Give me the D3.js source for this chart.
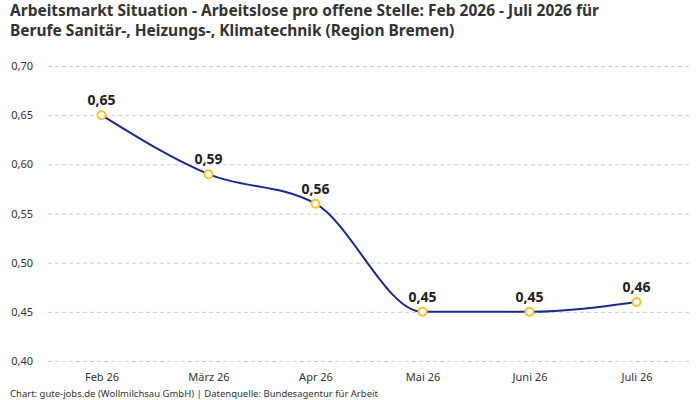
<!DOCTYPE html>
<html>
<head>
<meta charset="utf-8">
<script src="https://cdn.jsdelivr.net/npm/d3@7"></script>
<style>
  body { margin: 0; background: #fff; }
  svg { display: block; font-family: "Noto Sans", sans-serif; }
</style>
</head>
<body>
<div id="chart"></div>
<script>
const months = ["Feb 26", "März 26", "Apr 26", "Mai 26", "Juni 26", "Juli 26"];
const values = [0.65, 0.59, 0.56, 0.45, 0.45, 0.46];
const yTicks = [0.40, 0.45, 0.50, 0.55, 0.60, 0.65, 0.70];

const width = 700, height = 400;
const margin = { left: 48, right: 10, top: 66, bottom: 39 };

const fmt = v => d3.format(".2f")(v).replace(".", ",");

const svg = d3.select("#chart").append("svg")
    .attr("width", width)
    .attr("height", height);

const xScale = d3.scalePoint().domain(months)
    .range([margin.left, width - margin.right]).padding(0.5);
const yScale = d3.scaleLinear().domain([0.40, 0.70])
    .range([height - margin.bottom, margin.top]);

// title
const title = svg.append("text")
    .attr("x", 10).attr("y", 16)
    .attr("font-size", 15.5).attr("font-weight", "bold").attr("fill", "#333");
title.append("tspan").attr("x", 10).attr("dy", 0)
    .text("Arbeitsmarkt Situation - Arbeitslose pro offene Stelle: Feb 2026 - Juli 2026 für");
title.append("tspan").attr("x", 10).attr("dy", 20)
    .text("Berufe Sanitär-, Heizungs-, Klimatechnik (Region Bremen)");

// y axis with grid
const yAxis = svg.append("g")
    .attr("transform", `translate(${margin.left}, 0)`)
    .call(d3.axisLeft(yScale).tickValues(yTicks).tickFormat(fmt)
        .tickSize(-(width - margin.left - margin.right)).tickPadding(15));
yAxis.select(".domain").remove();
yAxis.selectAll(".tick line")
    .attr("stroke", "#ccc").attr("stroke-dasharray", "4,3");
yAxis.selectAll(".tick text")
    .attr("font-size", 11).attr("fill", "#333")
    .attr("font-family", "Noto Sans, sans-serif");

// x axis
const xAxis = svg.append("g")
    .attr("transform", `translate(0, ${height - margin.bottom})`)
    .call(d3.axisBottom(xScale).tickSize(0).tickPadding(12));
xAxis.select(".domain").remove();
xAxis.selectAll(".tick text")
    .attr("font-size", 11).attr("fill", "#333")
    .attr("font-family", "Noto Sans, sans-serif");

const data = months.map((m, i) => ({ m, v: values[i] }));

const line = d3.line()
    .x(d => xScale(d.m))
    .y(d => yScale(d.v))
    .curve(d3.curveMonotoneX);

svg.append("path")
    .attr("d", line(data))
    .attr("fill", "none")
    .attr("stroke", "#1a2a8e")
    .attr("stroke-width", 2);

svg.selectAll("circle.pt").data(data).enter().append("circle")
    .attr("class", "pt")
    .attr("cx", d => xScale(d.m))
    .attr("cy", d => yScale(d.v))
    .attr("r", 4)
    .attr("fill", "#fff")
    .attr("stroke", "#f7c325")
    .attr("stroke-width", 2);

svg.selectAll("text.lbl").data(data).enter().append("text")
    .attr("class", "lbl")
    .attr("x", d => xScale(d.m))
    .attr("y", d => yScale(d.v) - 10)
    .attr("text-anchor", "middle")
    .attr("font-size", 14).attr("font-weight", "bold").attr("fill", "#222")
    .text(d => fmt(d.v));

// footer
svg.append("text")
    .attr("x", 10).attr("y", 397)
    .attr("font-size", 9.5).attr("fill", "#333")
    .text("Chart: gute-jobs.de (Wollmilchsau GmbH) | Datenquelle: Bundesagentur für Arbeit");
</script>
</body>
</html>
